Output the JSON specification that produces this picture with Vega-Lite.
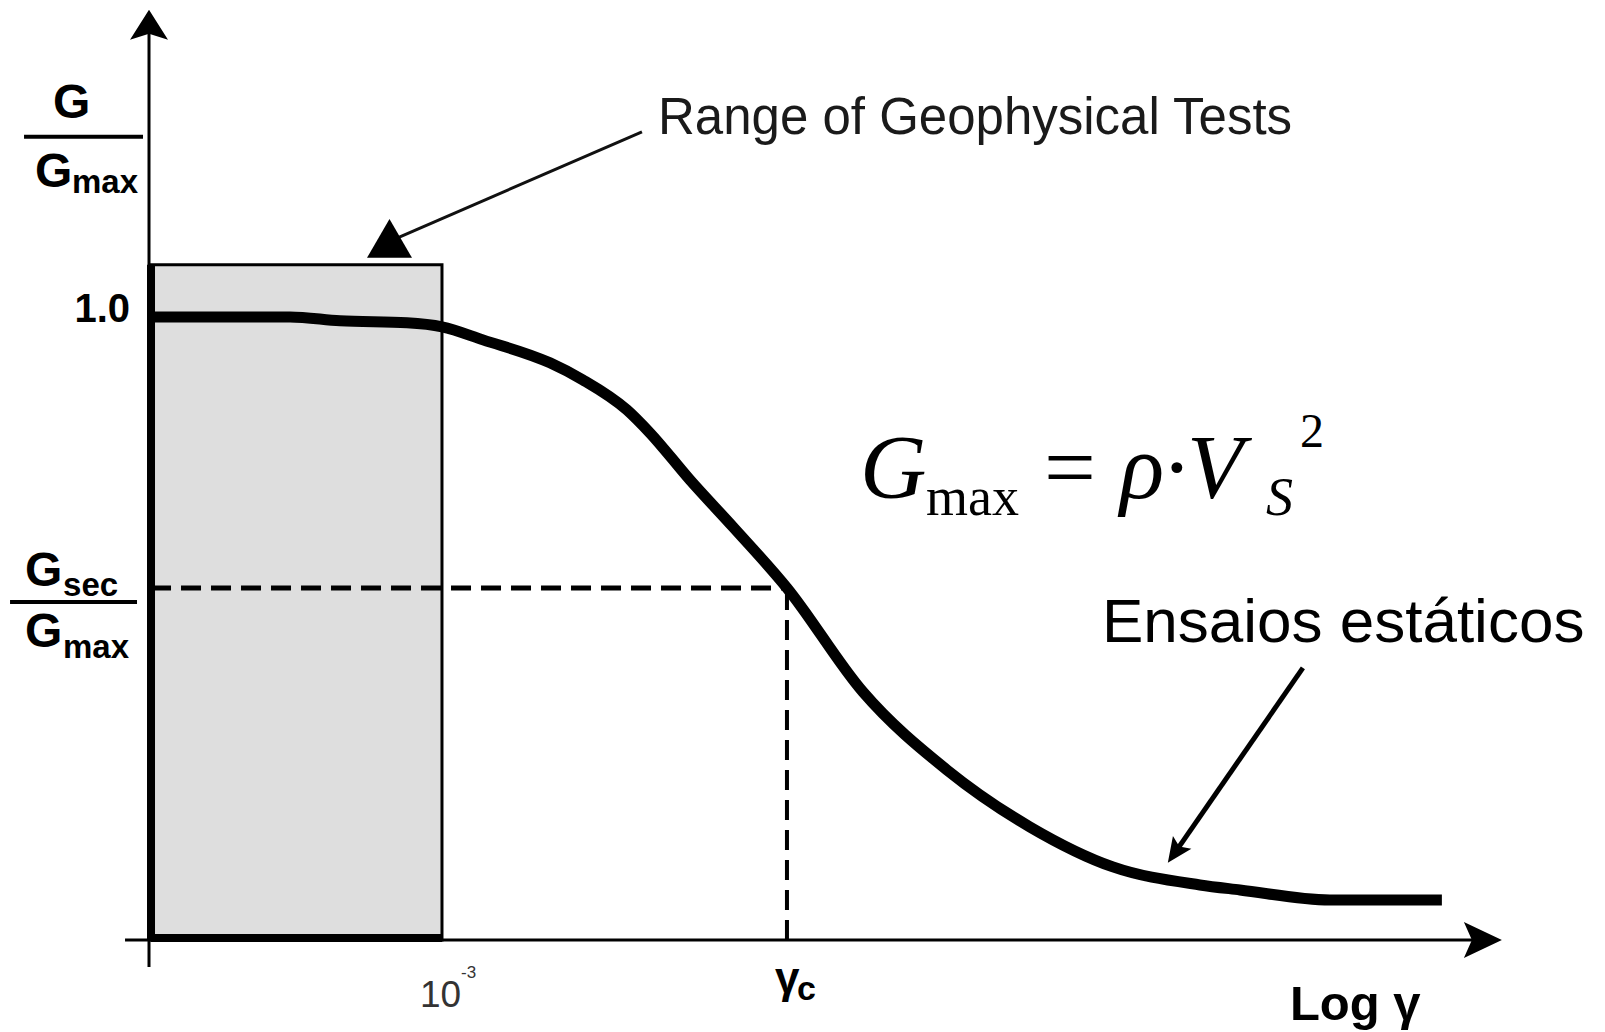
{
  "$schema": "https://vega.github.io/schema/vega-lite/v6.json",
  "width": 1605,
  "height": 1032,
  "autosize": {"type": "fit", "contains": "padding"},
  "padding": 0,
  "background": "white",
  "config": {"view": {"stroke": null}},
  "encoding": {
    "x": {"field": "x", "type": "quantitative", "scale": {"domain": [-0.519, 4.997], "nice": false, "zero": false}, "axis": null},
    "y": {"field": "y", "type": "quantitative", "scale": {"domain": [-0.148, 1.511], "nice": false, "zero": false}, "axis": null}
  },
  "layer": [
    {
      "data": {"values": [{"x": 0, "x2": 1, "y": 0, "y2": 1.0852}]},
      "mark": {"type": "rect", "fill": "#dedede", "stroke": "#000000", "strokeWidth": 3},
      "encoding": {"x2": {"field": "x2"}, "y2": {"field": "y2"}}
    },
    {
      "data": {"values": [{"x": 0, "y": 0, "y2": 1.0852}]},
      "mark": {"type": "rule", "color": "#000000", "strokeWidth": 8},
      "encoding": {"y2": {"field": "y2"}}
    },
    {
      "data": {"values": [{"x": 0, "x2": 1, "y": 0.003}]},
      "mark": {"type": "rule", "color": "#000000", "strokeWidth": 8},
      "encoding": {"x2": {"field": "x2"}}
    },
    {
      "data": {"values": [{"x": -0.0069, "y": -0.0434, "y2": 1.463}]},
      "mark": {"type": "rule", "color": "#000000", "strokeWidth": 3},
      "encoding": {"y2": {"field": "y2"}}
    },
    {
      "data": {"values": [{"x": -0.0893, "x2": 4.5739, "y": 0}]},
      "mark": {"type": "rule", "color": "#000000", "strokeWidth": 3},
      "encoding": {"x2": {"field": "x2"}}
    },
    {
      "data": {"values": [{"x": -0.0069, "y": 1.463}]},
      "mark": {"type": "point", "shape": "M0,-1L0.95,0.5L0,0.2L-0.95,0.5Z", "size": 1600, "filled": true, "opacity": 1, "color": "#000000", "strokeWidth": 0}
    },
    {
      "data": {"values": [{"x": 4.5739, "y": 0}]},
      "mark": {"type": "point", "shape": "M0,-1L0.9,0.9L0,0.5L-0.9,0.9Z", "size": 1600, "angle": 90, "filled": true, "opacity": 1, "color": "#000000", "strokeWidth": 0}
    },
    {
      "data": {"values": [{"x": 0, "x2": 2.1856, "y": 0.5659}]},
      "mark": {"type": "rule", "color": "#000000", "strokeWidth": 5, "strokeDash": [20, 10]},
      "encoding": {"x2": {"field": "x2"}}
    },
    {
      "data": {"values": [{"x": 2.1856, "y": 0, "y2": 0.5659}]},
      "mark": {"type": "rule", "color": "#000000", "strokeWidth": 4, "strokeDash": [20, 10]},
      "encoding": {"y2": {"field": "y2"}}
    },
    {
      "data": {"values": [
        {"x": 0, "y": 1.0016}, {"x": 0.2715, "y": 1.0016}, {"x": 0.4777, "y": 1.0016},
        {"x": 0.6495, "y": 0.9952}, {"x": 0.8797, "y": 0.992}, {"x": 1.0, "y": 0.9855},
        {"x": 1.1409, "y": 0.9646}, {"x": 1.3711, "y": 0.9277}, {"x": 1.4845, "y": 0.9003},
        {"x": 1.6357, "y": 0.8521}, {"x": 1.7148, "y": 0.8151}, {"x": 1.8522, "y": 0.7395},
        {"x": 2.0, "y": 0.664}, {"x": 2.1856, "y": 0.5659},
        {"x": 2.4467, "y": 0.3987}, {"x": 2.7354, "y": 0.2733}, {"x": 3.0206, "y": 0.1817},
        {"x": 3.3058, "y": 0.1174}, {"x": 3.6048, "y": 0.0884}, {"x": 3.7423, "y": 0.0804},
        {"x": 4.0515, "y": 0.0643}, {"x": 4.4364, "y": 0.0643}
      ]},
      "mark": {"type": "line", "color": "#000000", "strokeWidth": 11, "interpolate": "monotone", "strokeCap": "butt"}
    },
    {
      "data": {"values": [{"x": 1.6873, "y": 1.299}, {"x": 0.8316, "y": 1.1254}]},
      "mark": {"type": "line", "color": "#111111", "strokeWidth": 3}
    },
    {
      "data": {"values": [{"x": 0.8196, "y": 1.1278}]},
      "mark": {"type": "point", "shape": "M0,-0.866L1,0.866L-1,0.866Z", "size": 2025, "filled": true, "opacity": 1, "color": "#000000", "strokeWidth": 0}
    },
    {
      "data": {"values": [{"x": 3.9588, "y": 0.4373}, {"x": 3.5192, "y": 0.1404}]},
      "mark": {"type": "line", "color": "#000000", "strokeWidth": 5}
    },
    {
      "data": {"values": [{"x": 3.5192, "y": 0.1404}]},
      "mark": {"type": "point", "shape": "M0,1L-0.9,-1L0,-0.6L0.9,-1Z", "size": 625, "angle": 35, "filled": true, "opacity": 1, "color": "#000000", "strokeWidth": 0}
    },
    {
      "data": {"values": [{"x": -0.4364, "x2": -0.0275, "y": 1.291}, {"x": -0.4845, "x2": -0.0481, "y": 0.5434}]},
      "mark": {"type": "rule", "color": "#000000", "strokeWidth": 4},
      "encoding": {"x2": {"field": "x2"}}
    },
    {
      "data": {"values": [
        {"t": "G", "x": -0.3368, "y": 1.3215},
        {"t": "G", "x": -0.3986, "y": 1.2106},
        {"t": "G", "x": -0.433, "y": 0.5691},
        {"t": "G", "x": -0.433, "y": 0.4711}
      ]},
      "mark": {"type": "text", "font": "Liberation Sans", "fontWeight": "bold", "fontSize": 48, "align": "left", "baseline": "alphabetic", "color": "#000000"},
      "encoding": {"text": {"field": "t"}}
    },
    {
      "data": {"values": [
        {"t": "max", "x": -0.2715, "y": 1.201},
        {"t": "sec", "x": -0.3024, "y": 0.5531},
        {"t": "max", "x": -0.3024, "y": 0.4534}
      ]},
      "mark": {"type": "text", "font": "Liberation Sans", "fontWeight": "bold", "fontSize": 33, "align": "left", "baseline": "alphabetic", "color": "#000000"},
      "encoding": {"text": {"field": "t"}}
    },
    {
      "data": {"values": [{"t": "1.0", "x": -0.0722, "y": 0.9936}]},
      "mark": {"type": "text", "font": "Liberation Sans", "fontWeight": "bold", "fontSize": 40, "align": "right", "baseline": "alphabetic", "color": "#000000"},
      "encoding": {"text": {"field": "t"}}
    },
    {
      "data": {"values": [{"t": "Log γ", "x": 3.9141, "y": -0.1286}]},
      "mark": {"type": "text", "font": "Liberation Sans", "fontWeight": "bold", "fontSize": 49, "align": "left", "baseline": "alphabetic", "color": "#000000"},
      "encoding": {"text": {"field": "t"}}
    },
    {
      "data": {"values": [{"t": "γ", "x": 2.1443, "y": -0.0852}]},
      "mark": {"type": "text", "font": "Liberation Sans", "fontWeight": "bold", "fontSize": 44, "align": "left", "baseline": "alphabetic", "color": "#000000"},
      "encoding": {"text": {"field": "t"}}
    },
    {
      "data": {"values": [{"t": "c", "x": 2.2199, "y": -0.0965}]},
      "mark": {"type": "text", "font": "Liberation Sans", "fontWeight": "bold", "fontSize": 34, "align": "left", "baseline": "alphabetic", "color": "#000000"},
      "encoding": {"text": {"field": "t"}}
    },
    {
      "data": {"values": [{"t": "Range of Geophysical Tests", "x": 1.7423, "y": 1.2958}]},
      "mark": {"type": "text", "font": "Liberation Sans", "fontSize": 51, "align": "left", "baseline": "alphabetic", "color": "#1a1a1a"},
      "encoding": {"text": {"field": "t"}}
    },
    {
      "data": {"values": [{"t": "Ensaios estáticos", "x": 3.268, "y": 0.4791}]},
      "mark": {"type": "text", "font": "Liberation Sans", "fontSize": 62, "align": "left", "baseline": "alphabetic", "color": "#000000"},
      "encoding": {"text": {"field": "t"}}
    },
    {
      "data": {"values": [{"t": "10", "x": 0.9244, "y": -0.1077}]},
      "mark": {"type": "text", "font": "Liberation Sans", "fontSize": 37, "align": "left", "baseline": "alphabetic", "color": "#333333"},
      "encoding": {"text": {"field": "t"}}
    },
    {
      "data": {"values": [{"t": "-3", "x": 1.0653, "y": -0.0611}]},
      "mark": {"type": "text", "font": "Liberation Sans", "fontSize": 17, "align": "left", "baseline": "alphabetic", "color": "#333333"},
      "encoding": {"text": {"field": "t"}}
    },
    {
      "data": {"values": [
        {"t": "G", "x": 2.4364, "y": 0.7106},
        {"t": "ρ·V", "x": 3.3299, "y": 0.7106}
      ]},
      "mark": {"type": "text", "font": "Liberation Serif", "fontStyle": "italic", "fontSize": 92, "align": "left", "baseline": "alphabetic", "color": "#000000"},
      "encoding": {"text": {"field": "t"}}
    },
    {
      "data": {"values": [{"t": "=", "x": 3.1581, "y": 0.7106}]},
      "mark": {"type": "text", "font": "Liberation Serif", "fontSize": 92, "align": "center", "baseline": "alphabetic", "color": "#000000"},
      "encoding": {"text": {"field": "t"}}
    },
    {
      "data": {"values": [{"t": "max", "x": 2.6632, "y": 0.6833}]},
      "mark": {"type": "text", "font": "Liberation Serif", "fontSize": 54, "align": "left", "baseline": "alphabetic", "color": "#000000"},
      "encoding": {"text": {"field": "t"}}
    },
    {
      "data": {"values": [{"t": "S", "x": 3.8316, "y": 0.6833}]},
      "mark": {"type": "text", "font": "Liberation Serif", "fontStyle": "italic", "fontSize": 54, "align": "left", "baseline": "alphabetic", "color": "#000000"},
      "encoding": {"text": {"field": "t"}}
    },
    {
      "data": {"values": [{"t": "2", "x": 3.9485, "y": 0.7926}]},
      "mark": {"type": "text", "font": "Liberation Serif", "fontSize": 48, "align": "left", "baseline": "alphabetic", "color": "#000000"},
      "encoding": {"text": {"field": "t"}}
    }
  ]
}
